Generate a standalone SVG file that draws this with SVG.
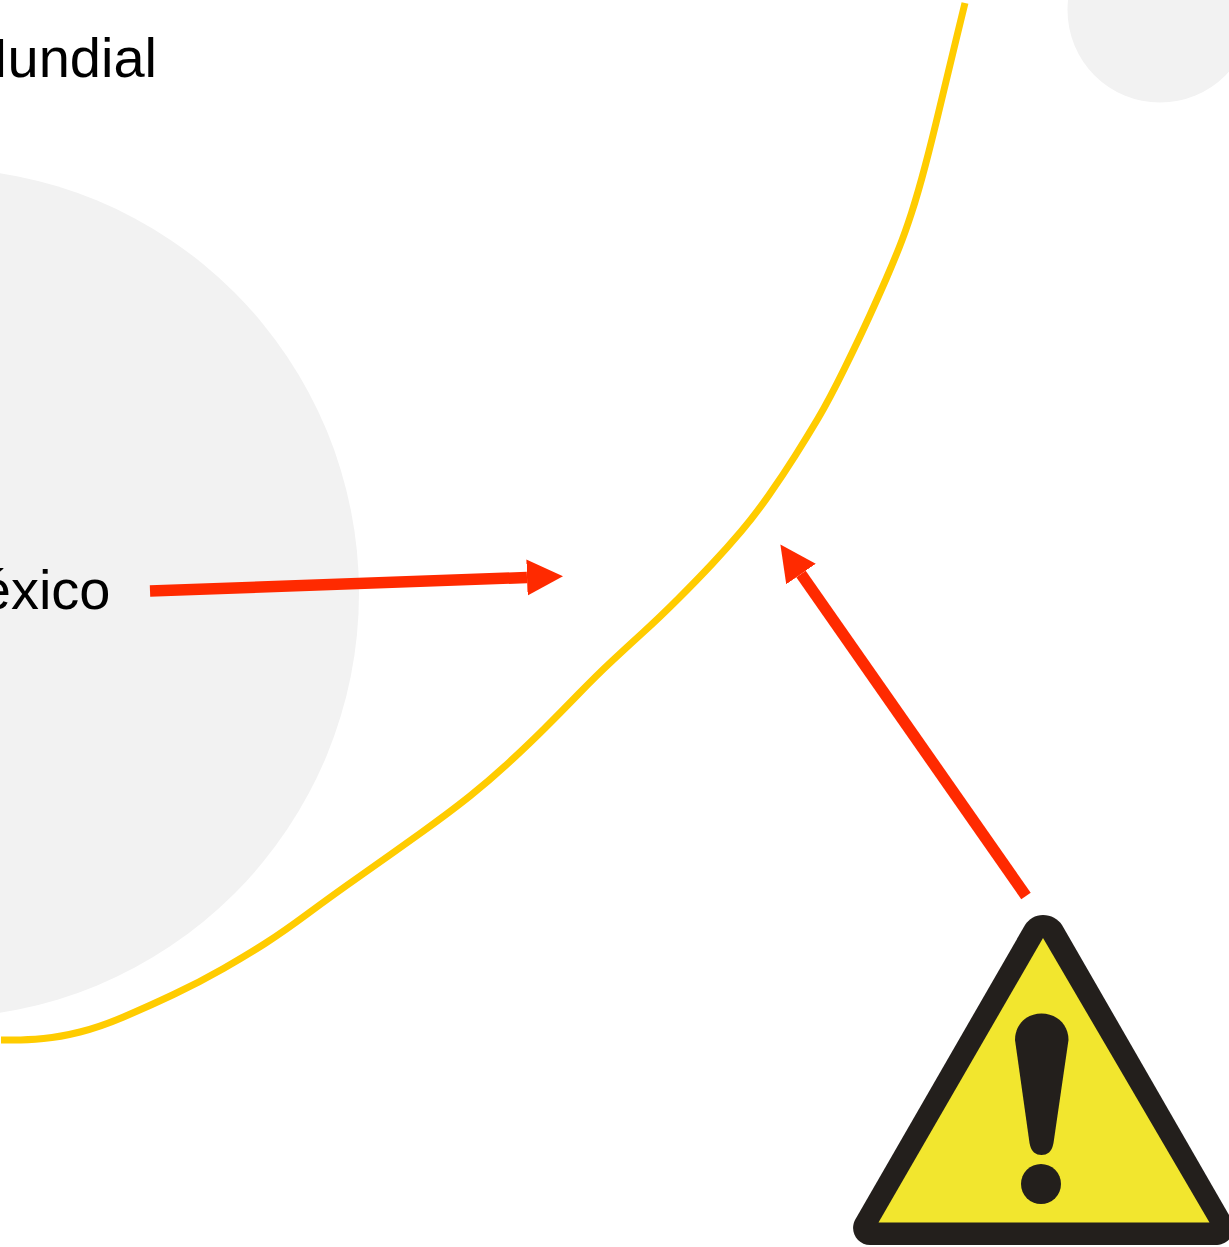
<svg xmlns="http://www.w3.org/2000/svg" width="1229" height="1247" viewBox="0 0 1229 1247">
<style>
.t{font-family:"Liberation Sans",Arial,sans-serif;font-size:56px;fill:#000;text-anchor:end}
.bg{fill:#f2f2f2}
.arrow{fill:none;stroke:#ff2a00;stroke-width:11.5;marker-end:url(#head)}
.curve{fill:none;stroke:#ffcc00;stroke-width:7}
.k{fill:#231f1c}
</style>
<defs>
<marker id="head" markerUnits="userSpaceOnUse" markerWidth="38" markerHeight="38" refX="0" refY="18" orient="auto" viewBox="0 0 38 36"><path d="M0 0L36 18L0 36Z" fill="#ff2a00"/></marker>
</defs>
<rect width="1229" height="1247" fill="#fff"/>
<g id="bubbles">
<circle class="bg" cx="-66" cy="593" r="425"/>
<circle class="bg" cx="1160" cy="10" r="92.5"/>
</g>
<g id="label-mundial"><text class="t" x="157" y="77">Mundial</text></g>
<g id="label-mexico"><text class="t" x="110.5" y="608.5">México</text></g>
<g id="connectors">
<path class="curve" d="M1 1040L14 1040Q27 1040 43.5 1038.5Q60 1037 80 1032Q100 1027 123.5 1017Q147 1007 173.5 994.5Q200 982 223.5 968.5Q247 955 265 943.5Q283 932 308 913.5Q333 895 361.5 875Q390 855 420 833.5Q450 812 470 796Q490 780 510 761.5Q530 743 545 728Q560 713 578.5 694Q597 675 612 661Q627 647 643.5 632Q660 617 678.5 598.5Q697 580 712 564Q727 548 741 531.5Q755 515 769 495Q783 475 795 456Q807 437 818 418.5Q829 400 844.5 368.5Q860 337 870 315Q880 293 886.5 278Q893 263 899 248Q905 233 911.5 213Q918 193 925 166.5Q932 140 939.5 108.5Q947 77 956 40L965 3"/>
<path class="arrow" d="M150 591L527 577.5"/>
<path class="arrow" d="M1026 896L801 574"/>
</g>
<g id="warning">
<path class="k" d="M1043 915C1051 915 1058 919 1062 925L1229 1215L1232 1222C1236 1235 1228 1245 1215 1245L870 1245C858 1245 849 1232 855 1220L1025 925C1029 919 1035 915 1043 915Z"/>
<path d="M1043 938L1209.5 1222.5L878.5 1222.5Z" fill="#f2e62e"/>
<path class="k" d="M1015 1040C1015 1024 1027 1013.5 1041.5 1013.5C1056 1013.5 1068.5 1024 1068.5 1040L1053.5 1143C1052 1152 1047 1155 1041.5 1155C1036 1155 1031 1152 1029.5 1143Z"/>
<circle class="k" cx="1041" cy="1184" r="20"/>
</g>
</svg>
